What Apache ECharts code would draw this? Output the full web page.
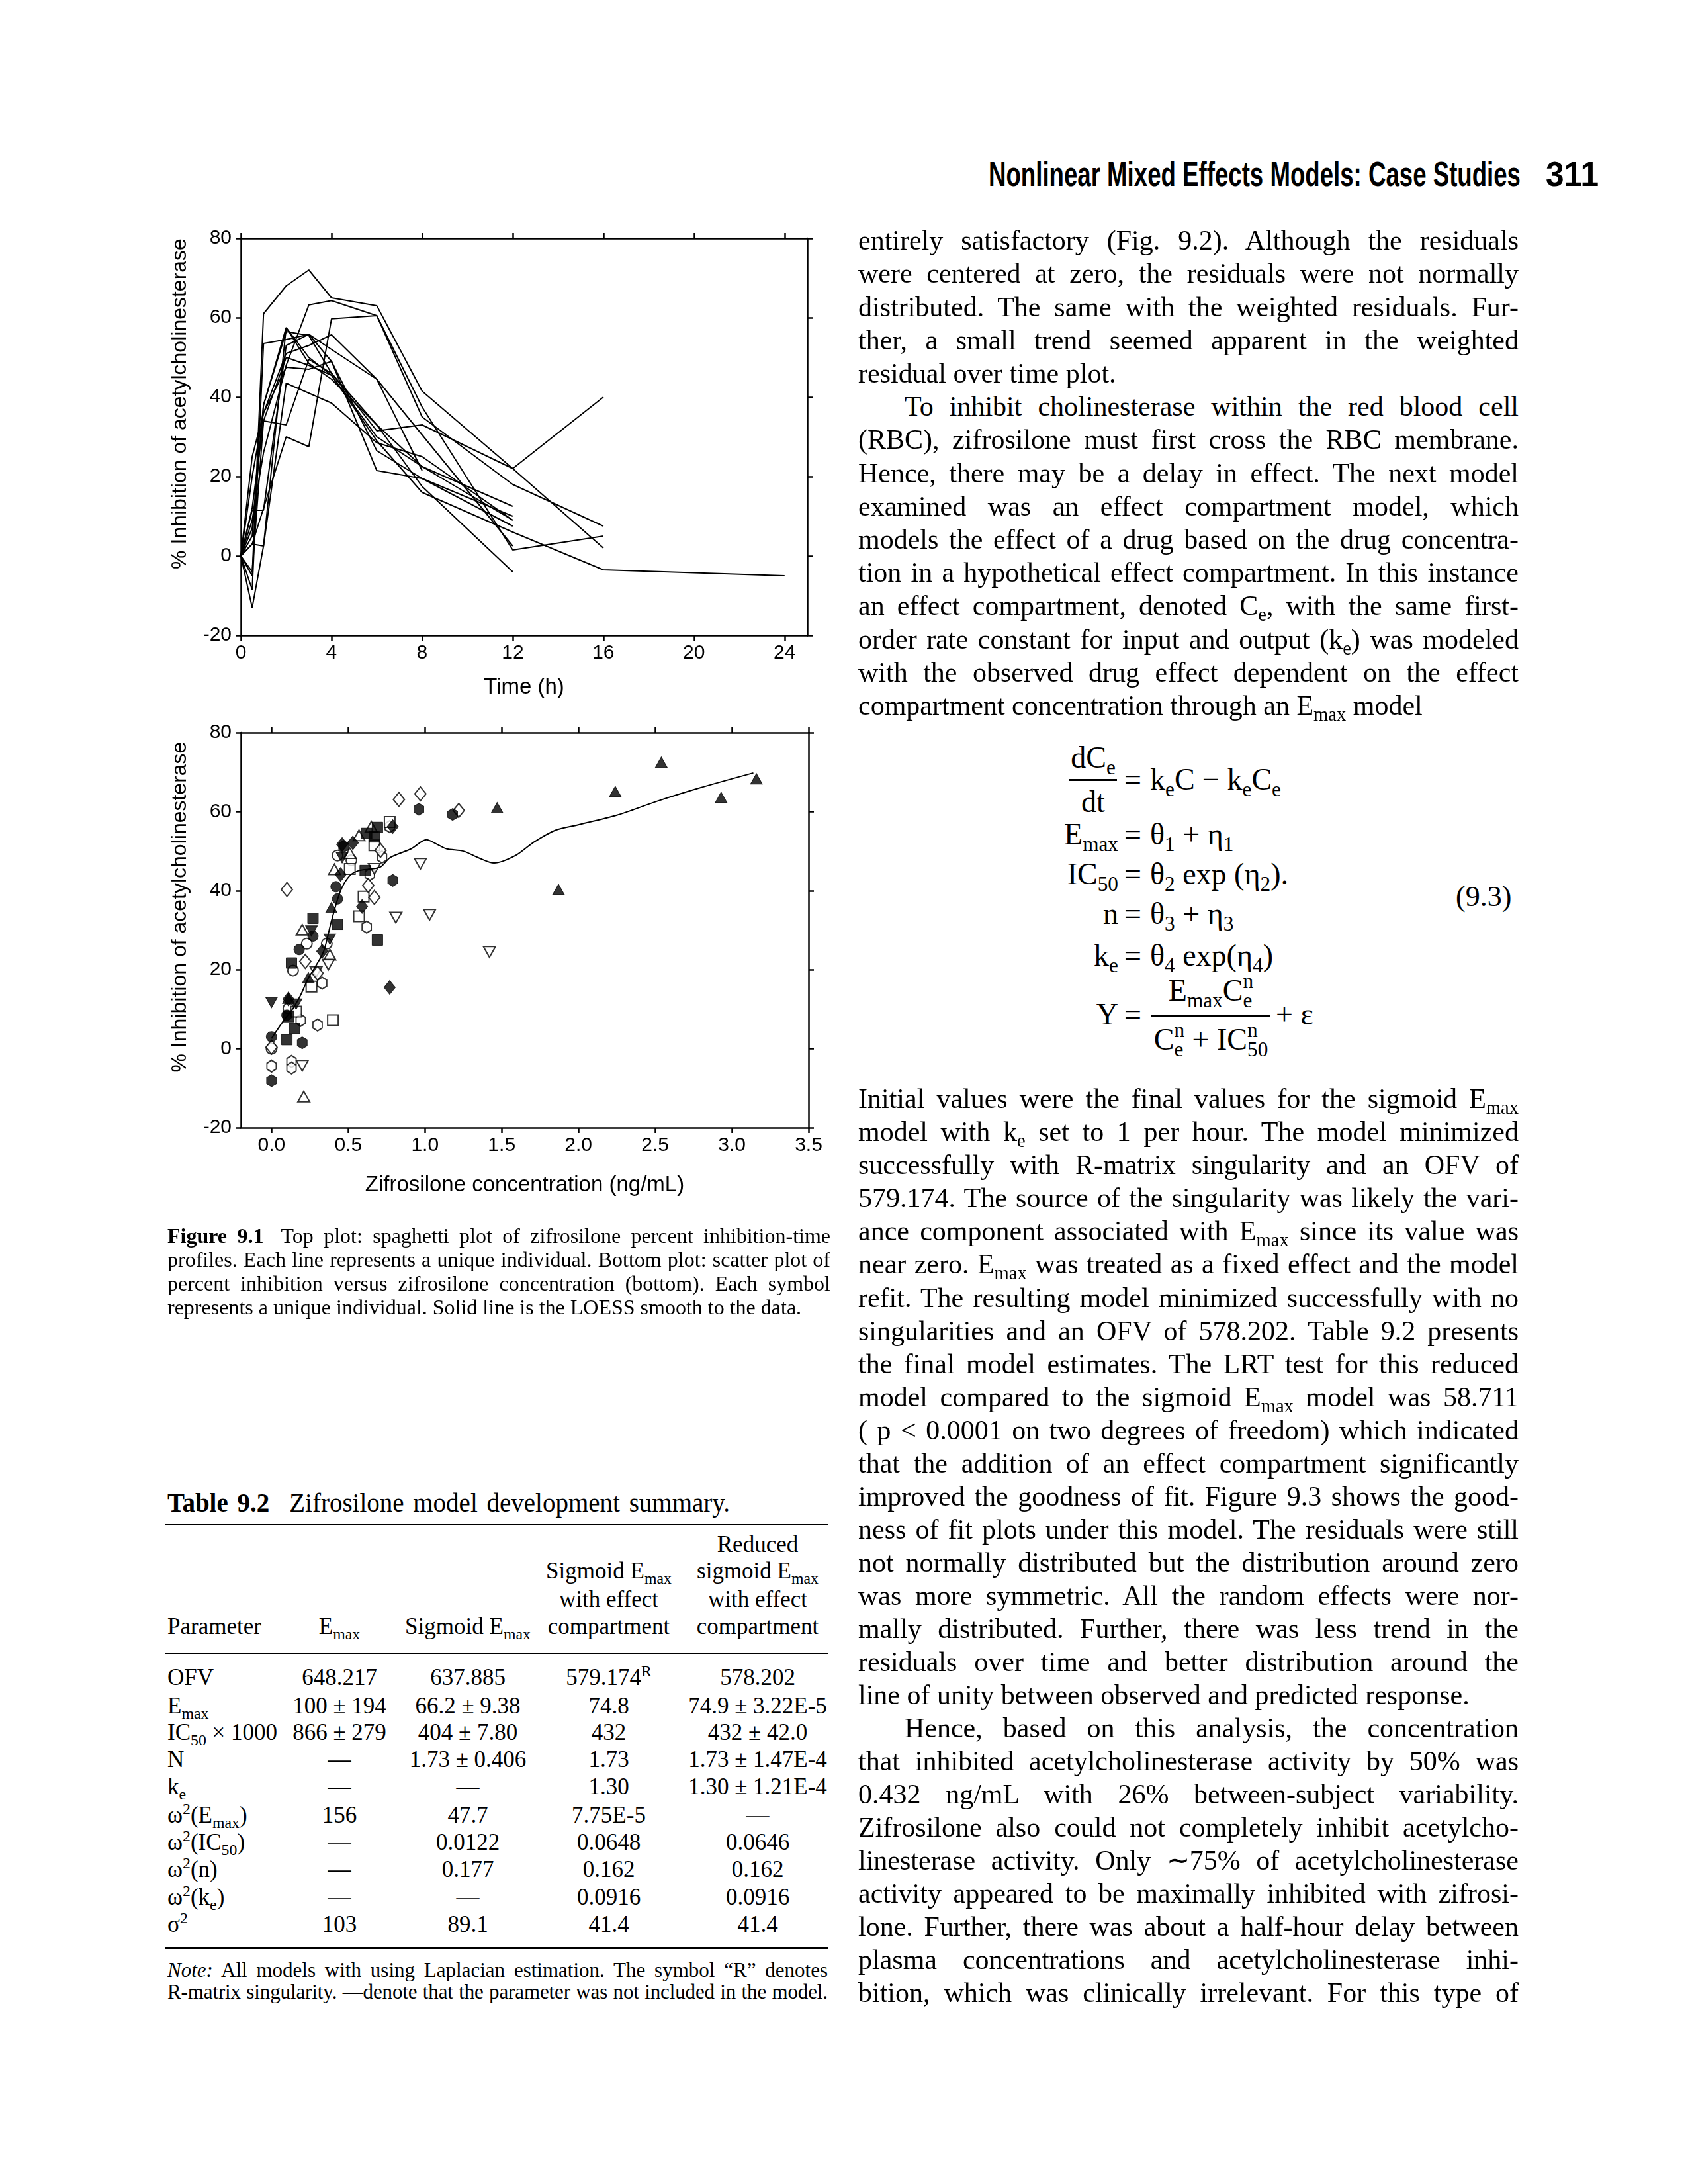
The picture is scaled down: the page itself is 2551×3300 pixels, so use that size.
<!DOCTYPE html>
<html><head><meta charset="utf-8">
<script src="https://cdn.jsdelivr.net/npm/echarts@6/dist/echarts.min.js"></script>
<style>
html,body{margin:0;padding:0;background:#fff;}
body{width:2551px;height:3300px;position:relative;overflow:hidden;font-family:"Liberation Serif","Times New Roman",serif;color:#000;}
#chart{position:absolute;left:0;top:0;width:1300px;height:1850px;}
.t{position:absolute;white-space:nowrap;}
sub,sup{font-size:0.68em;line-height:0;}
.rule{position:absolute;background:#000;}
</style></head>
<body>
<div id="chart"></div>
<script>
// ---------------- DATA ----------------
const timeTicks = [0, 4, 8, 12, 16, 20, 24];
const inhibTicks = [-20, 0, 20, 40, 60, 80];
const concTicks = [0, 0.5, 1.0, 1.5, 2.0, 2.5, 3.0, 3.5];
const sampleTimes = [0, 0.5, 1, 2, 3, 4, 6, 8, 12, 16, 24];
const subj01 = [0, -5, 61, 68, 72, 65, 63, 41.5, 22, 40, null];
const subj02 = [0, 9, 26, 48, 63.2, 64.3, 60.5, 35, 18, 7.5, null];
const subj03 = [0, 3, 12, 30, 27.5, 59.7, 60.5, 37.5, 1.5, 5, null];
const subj04 = [0, -8.5, 53.5, 54.5, 55.8, 52, 44.5, 30.5, 2.5, null, null];
const subj05 = [0, 20, 36, 51, 53, 55.7, 44.5, 21.5, null, null, null];
const subj06 = [0, -13, 2.5, 57.5, 50, 45.5, 29, 16, 6, -3.5, -5];
const subj07 = [0, 7, 38, 56.5, 55.5, 46, 33, 22.5, 12.5, null, null];
const subj08 = [0, 12, 34, 33, 49.5, 46, 31.5, 33, 22, 2, null];
const subj09 = [0, 3, 2.5, 43.5, 41, 38.5, 28.5, 25, 9, null, null];
const subj10 = [0, 11.5, 11.5, 53, 55.8, 49, 21.5, 19.5, 7.5, null, null];
const subj11 = [0, 5, 38, 57.5, 48.5, 44.5, 33, 17.5, -4, null, null];
const subj12 = [0, 25, 36, 47.5, 47, 49, 26.5, 19.5, 10, null, null];
const subj13 = [0, -4, 34, 50, 48, 45.5, 30, 22.5, 9, null, null];

const filledTriUp = [[2.54,72.5],[2.24,65.1],[2.93,63.6],[3.16,68.3],[1.47,61.0],[1.87,40.3],[0.39,35.7],[0.24,18.0],[0.11,12.8]];
const openTriUp = [[0.21,-12.1],[0.20,30.1],[0.41,45.4],[0.57,54.0],[0.51,49.5],[0.65,56.2],[0.38,23.8]];
const filledTriDown = [[0.0,11.7],[0.16,11.3],[0.26,29.8],[0.38,27.7],[0.46,48.3]];
const openTriDown = [[0.97,46.8],[0.81,33.2],[1.03,33.9],[1.42,24.5],[0.37,21.3],[0.29,19.4],[0.20,-4.3],[0.67,45.5]];
const filledSquare = [[0.69,56.0],[0.62,54.5],[0.67,53.6],[0.61,45.1],[0.27,33.0],[0.43,31.5],[0.69,27.5],[0.13,21.7],[0.10,2.3],[0.15,5.1],[0.11,8.1]];
const openSquare = [[0.77,57.4],[0.67,51.5],[0.51,45.5],[0.60,38.5],[0.57,33.5],[0.26,15.7],[0.40,7.2],[0.16,9.4]];
const filledDiamond = [[0.46,51.7],[0.53,52.1],[0.79,56.2],[0.45,44.1],[0.59,36.0],[0.77,15.5],[0.33,24.7],[0.11,12.6]];
const openDiamond = [[0.10,40.3],[0.83,63.1],[0.97,64.5],[1.22,60.3],[0.71,50.2],[0.63,41.3],[0.67,38.3],[0.22,22.1],[0.30,19.1],[0.0,0.4]];
const filledCircle = [[0.42,41.0],[0.43,37.9],[0.18,25.1],[0.27,28.5],[0.0,3.0],[0.10,8.5]];
const filledHex = [[0.96,60.6],[1.18,59.3],[0.79,42.6],[0.0,-8.1],[0.20,1.5],[0.47,51.2]];
const openCircle = [[0.43,48.9],[0.52,47.7],[0.23,26.6],[0.36,26.6],[0.14,19.8],[0.0,0.0],[0.11,10.2]];
const openHex = [[0.77,56.2],[0.72,48.5],[0.64,44.1],[0.62,30.8],[0.33,16.6],[0.30,6.0],[0.19,7.2],[0.0,-4.4],[0.13,-3.2],[0.13,-4.9]];
const loessX = [0,0.08,0.14,0.19,0.24,0.28,0.34,0.39,0.45,0.51,0.57,0.65,0.71,0.77,0.82,0.91,1.01,1.07,1.14,1.25,1.35,1.45,1.59,1.71,1.85,1.99,2.25,2.51,2.79,3.14];
const loessY = [2.6,7.2,10.2,13.6,17.9,20.4,24.7,32.3,40,43.8,45.1,45.5,46,48.3,49.2,50.6,52.9,51.9,50.6,50,48.3,47,48.9,52.3,55.3,56.6,59.1,62.6,66,69.8];

// ---------------- CHART ----------------
const subjects = [subj01,subj02,subj03,subj04,subj05,subj06,subj07,subj08,subj09,subj10,subj11,subj12,subj13];
const SANS = '"Liberation Sans", Arial, Helvetica, sans-serif';
const lineW = 2.5;
function axisBase(extra) {
  return Object.assign({
    axisLine: {show: true, onZero: false, lineStyle: {color: '#000', width: lineW}},
    axisTick: {show: true, inside: false, length: 8, lineStyle: {color: '#000', width: lineW}},
    splitLine: {show: false},
    axisLabel: {color: '#000', fontFamily: SANS, fontSize: 30, margin: 14},
    nameTextStyle: {color: '#000', fontFamily: SANS, fontSize: 33}
  }, extra);
}
const hexPath = 'path://M10,0 L20,6 L20,18 L10,24 L0,18 L0,6 Z';
const triDownPath = 'path://M0,0 L20,0 L10,18 Z';

const series = [];
subjects.forEach(function (s) {
  const d = [];
  s.forEach(function (v, i) { if (v !== null) d.push([sampleTimes[i], v]); });
  series.push({type: 'line', xAxisIndex: 0, yAxisIndex: 0, data: d, symbol: 'none',
    lineStyle: {color: '#000', width: 2}, silent: true});
});
function sc(data, symbol, size, filled) {
  series.push({type: 'scatter', xAxisIndex: 2, yAxisIndex: 2, data: data, symbol: symbol,
    symbolSize: size, symbolKeepAspect: false,
    itemStyle: filled ? {color: '#000', borderColor: '#000', borderWidth: 1}
                      : {color: '#fff', borderColor: '#000', borderWidth: 2}});
}
sc(openCircle, 'circle', 16, false);
sc(openHex, hexPath, [14, 18], false);
sc(openSquare, 'rect', 16, false);
sc(openTriUp, 'triangle', [18, 16], false);
sc(openTriDown, triDownPath, [18, 16], false);
sc(openDiamond, 'diamond', [17, 21], false);
sc(filledCircle, 'circle', 16, true);
sc(filledHex, hexPath, [15, 18], true);
sc(filledSquare, 'rect', 16, true);
sc(filledTriUp, 'triangle', [18, 16], true);
sc(filledTriDown, triDownPath, [18, 16], true);
sc(filledDiamond, 'diamond', [17, 21], true);
series.push({type: 'line', xAxisIndex: 2, yAxisIndex: 2, data: loessX.map(function (x, i) { return [x, loessY[i]]; }),
  symbol: 'none', smooth: 0.3, lineStyle: {color: '#000', width: 2}, z: 5});

const option = {
  animation: false,
  backgroundColor: 'transparent',
  grid: [
    {left: 364, top: 360, width: 856, height: 600},
    {left: 364, top: 1107, width: 858, height: 597}
  ],
  xAxis: [
    axisBase({gridIndex: 0, type: 'value', position: 'bottom', min: 0, max: 25,
      axisTick: {show: true, inside: false, length: 8, customValues: timeTicks, lineStyle: {color: '#000', width: lineW}},
      axisLabel: {color: '#000', fontFamily: SANS, fontSize: 30, margin: 12, customValues: timeTicks},
      name: 'Time (h)', nameLocation: 'middle', nameGap: 62}),
    axisBase({gridIndex: 0, type: 'value', position: 'top', min: 0, max: 25,
      axisTick: {show: true, inside: false, length: 8, customValues: timeTicks, lineStyle: {color: '#000', width: lineW}},
      axisLabel: {show: false}}),
    axisBase({gridIndex: 1, type: 'value', position: 'bottom', min: -0.2, max: 3.5,
      axisTick: {show: true, inside: false, length: 8, customValues: concTicks, lineStyle: {color: '#000', width: lineW}},
      axisLabel: {color: '#000', fontFamily: SANS, fontSize: 30, margin: 12, customValues: concTicks,
        formatter: function (v) { return Number(v).toFixed(1); }},
      name: 'Zifrosilone concentration (ng/mL)', nameLocation: 'middle', nameGap: 70}),
    axisBase({gridIndex: 1, type: 'value', position: 'top', min: -0.2, max: 3.5,
      axisTick: {show: true, inside: false, length: 8, customValues: concTicks, lineStyle: {color: '#000', width: lineW}},
      axisLabel: {show: false}})
  ],
  yAxis: [
    axisBase({gridIndex: 0, type: 'value', position: 'left', min: -20, max: 80, interval: 20,
      name: '% Inhibition of acetylcholinesterase', nameLocation: 'middle', nameGap: 76,
      nameTextStyle: {color: '#000', fontFamily: SANS, fontSize: 32, padding: [0, 0, 0, 100]}}),
    axisBase({gridIndex: 0, type: 'value', position: 'right', min: -20, max: 80, interval: 20,
      axisLabel: {show: false}}),
    axisBase({gridIndex: 1, type: 'value', position: 'left', min: -20, max: 80, interval: 20,
      name: '% Inhibition of acetylcholinesterase', nameLocation: 'middle', nameGap: 76,
      nameTextStyle: {color: '#000', fontFamily: SANS, fontSize: 32, padding: [0, 0, 0, 70]}}),
    axisBase({gridIndex: 1, type: 'value', position: 'right', min: -20, max: 80, interval: 20,
      axisLabel: {show: false}})
  ],
  series: series
};
const chart = echarts.init(document.getElementById('chart'), null, {renderer: 'canvas'});
chart.setOption(option);

// ---------------- PAGE TEXT ----------------
function mk(html, fs, family, weight) {
  const d = document.createElement('div');
  d.className = 't';
  d.style.fontSize = fs + 'px';
  d.style.lineHeight = (fs * 1.2) + 'px';
  if (family) d.style.fontFamily = family;
  if (weight) d.style.fontWeight = weight;
  d.innerHTML = html;
  document.body.appendChild(d);
  return d;
}
function placeL(html, x, yc, fs, opt) {
  opt = opt || {};
  const d = mk(html, fs, opt.family, opt.weight);
  d.style.left = x + 'px';
  d.style.top = (yc - fs * 0.66) + 'px';
  if (opt.width) {
    let nat = d.getBoundingClientRect().width;
    if (opt.fit) {
      d.style.transformOrigin = '0 0';
      d.style.transform = 'scaleX(' + (opt.width / nat) + ')';
    } else {
      const nChars = d.textContent.length;
      if (nat > opt.width - 8 && opt.justify) {
        // too long: tighten letters slightly
        d.style.letterSpacing = ((opt.width - 8 - nat) / nChars) + 'px';
        nat = d.getBoundingClientRect().width;
      }
      const n = (d.textContent.match(/[ \u00a0]/g) || []).length;
      if (opt.justify && n) d.style.wordSpacing = ((opt.width - nat) / n) + 'px';
      else if (!opt.justify && nat > opt.width) d.style.letterSpacing = ((opt.width - nat) / nChars) + 'px';
    }
  }
  return d;
}
function placeC(html, xc, yc, fs, opt) {
  opt = opt || {};
  const d = mk(html, fs, opt.family, opt.weight);
  const w = d.getBoundingClientRect().width;
  d.style.left = (xc - w / 2) + 'px';
  d.style.top = (yc - fs * 0.66) + 'px';
  return d;
}
function placeR(html, xr, yc, fs) {
  const d = mk(html, fs);
  const w = d.getBoundingClientRect().width;
  d.style.left = (xr - w) + 'px';
  d.style.top = (yc - fs * 0.66) + 'px';
  return d;
}
function rule(x, y, w, h) {
  const r = document.createElement('div');
  r.className = 'rule';
  r.style.left = x + 'px'; r.style.top = y + 'px'; r.style.width = w + 'px'; r.style.height = h + 'px';
  document.body.appendChild(r);
}

// Running header
const HDR = '"Liberation Sans Narrow","Liberation Sans",Arial,sans-serif';
placeL('Nonlinear Mixed Effects Models: Case Studies', 1494, 266, 52, {family: HDR, weight: 'bold', width: 804, fit: true});
placeL('311', 2336, 266, 52, {family: HDR, weight: 'bold', width: 80, fit: true});

// Right column body text
const BX = 1297, BW = 998, BF = 42, IND = 70;
const col1 = [
  ['entirely satisfactory (Fig. 9.2). Although the residuals', 0, 1],
  ['were centered at zero, the residuals were not normally', 0, 1],
  ['distributed. The same with the weighted residuals. Fur-', 0, 1],
  ['ther, a small trend seemed apparent in the weighted', 0, 1],
  ['residual over time plot.', 0, 0],
  ['To inhibit cholinesterase within the red blood cell', 1, 1],
  ['(RBC), zifrosilone must first cross the RBC membrane.', 0, 1],
  ['Hence, there may be a delay in effect. The next model', 0, 1],
  ['examined was an effect compartment model, which', 0, 1],
  ['models the effect of a drug based on the drug concentra-', 0, 1],
  ['tion in a hypothetical effect compartment. In this instance', 0, 1],
  ['an effect compartment, denoted C<sub>e</sub>, with the same first-', 0, 1],
  ['order rate constant for input and output (k<sub>e</sub>) was modeled', 0, 1],
  ['with the observed drug effect dependent on the effect', 0, 1],
  ['compartment concentration through an E<sub>max</sub> model', 0, 0]
];
col1.forEach(function (l, i) {
  const x = BX + (l[1] ? IND : 0);
  placeL(l[0], x, 366 + i * 50.2, BF, {width: BW - (l[1] ? IND : 0), justify: !!l[2]});
});
const col2 = [
  ['Initial values were the final values for the sigmoid E<sub>max</sub>', 0, 1],
  ['model with k<sub>e</sub> set to 1 per hour. The model minimized', 0, 1],
  ['successfully with R-matrix singularity and an OFV of', 0, 1],
  ['579.174. The source of the singularity was likely the vari-', 0, 1],
  ['ance component associated with E<sub>max</sub> since its value was', 0, 1],
  ['near zero. E<sub>max</sub> was treated as a fixed effect and the model', 0, 1],
  ['refit. The resulting model minimized successfully with no', 0, 1],
  ['singularities and an OFV of 578.202. Table 9.2 presents', 0, 1],
  ['the final model estimates. The LRT test for this reduced', 0, 1],
  ['model compared to the sigmoid E<sub>max</sub> model was 58.711', 0, 1],
  ['( p &lt; 0.0001 on two degrees of freedom) which indicated', 0, 1],
  ['that the addition of an effect compartment significantly', 0, 1],
  ['improved the goodness of fit. Figure 9.3 shows the good-', 0, 1],
  ['ness of fit plots under this model. The residuals were still', 0, 1],
  ['not normally distributed but the distribution around zero', 0, 1],
  ['was more symmetric. All the random effects were nor-', 0, 1],
  ['mally distributed. Further, there was less trend in the', 0, 1],
  ['residuals over time and better distribution around the', 0, 1],
  ['line of unity between observed and predicted response.', 0, 0],
  ['Hence, based on this analysis, the concentration', 1, 1],
  ['that inhibited acetylcholinesterase activity by 50% was', 0, 1],
  ['0.432 ng/mL with 26% between-subject variability.', 0, 1],
  ['Zifrosilone also could not completely inhibit acetylcho-', 0, 1],
  ['linesterase activity. Only ∼75% of acetylcholinesterase', 0, 1],
  ['activity appeared to be maximally inhibited with zifrosi-', 0, 1],
  ['lone. Further, there was about a half-hour delay between', 0, 1],
  ['plasma concentrations and acetylcholinesterase inhi-', 0, 1],
  ['bition, which was clinically irrelevant. For this type of', 0, 1]
];
col2.forEach(function (l, i) {
  const x = BX + (l[1] ? IND : 0);
  placeL(l[0], x, 1663 + i * 50.04, BF, {width: BW - (l[1] ? IND : 0), justify: !!l[2]});
});

// Equation block (9.3)
const EF = 46, EQX = 1712, LHR = 1690, RHL = 1738;
placeC('dC<sub>e</sub>', 1652, 1147, EF);
rule(1616, 1177, 72, 3);
placeC('dt', 1652, 1214, EF);
const eqRows = [
  [null, 'k<sub>e</sub>C − k<sub>e</sub>C<sub>e</sub>', 1180],
  ['E<sub>max</sub>', 'θ<sub>1</sub> + η<sub>1</sub>', 1263],
  ['IC<sub>50</sub>', 'θ<sub>2</sub> exp (η<sub>2</sub>).', 1323],
  ['n', 'θ<sub>3</sub> + η<sub>3</sub>', 1383],
  ['k<sub>e</sub>', 'θ<sub>4</sub> exp(η<sub>4</sub>)', 1446],
  ['Y', null, 1535]
];
eqRows.forEach(function (r) {
  if (r[0]) placeR(r[0], LHR, r[2], EF);
  placeC('=', EQX, r[2], EF);
  if (r[1]) placeL(r[1], RHL, r[2], EF);
});
function ss(sup, sub) {
  return '<span style="display:inline-block;vertical-align:-0.35em;font-size:0.68em;line-height:0.95;text-align:left">' + sup + '<br>' + sub + '</span>';
}
placeC('E<sub>max</sub>C' + ss('n', 'e'), 1830, 1498, EF);
rule(1740, 1533, 180, 3);
placeC('C' + ss('n', 'e') + ' + IC' + ss('n', '50'), 1830, 1572, EF);
placeL('+ ε', 1928, 1535, EF);
placeL('(9.3)', 2200, 1358, 44);

// Figure caption (left column)
const CX = 253, CW = 1002, CF = 32;
const capLines = [
  ['<b>Figure 9.1</b><span style="display:inline-block;width:26px"></span>Top plot: spaghetti plot of zifrosilone percent inhibition-time', 1],
  ['profiles. Each line represents a unique individual. Bottom plot: scatter plot of', 1],
  ['percent inhibition versus zifrosilone concentration (bottom). Each symbol', 1],
  ['represents a unique individual. Solid line is the LOESS smooth to the data.', 0]
];
capLines.forEach(function (l, i) {
  placeL(l[0], CX, 1869 + i * 36, CF, {width: CW, justify: !!l[1]});
});

// Table 9.2
placeL('<b>Table 9.2</b><span style="display:inline-block;width:30px"></span>Zifrosilone model development summary.', 253, 2274, 39, {width: 850, justify: true});
rule(250, 2302, 1001, 3);
const TF = 35;
const colX = [513, 707, 920, 1145];
placeC('Reduced', colX[3], 2336, TF);
placeC('Sigmoid E<sub>max</sub>', colX[2], 2376, TF);
placeC('sigmoid E<sub>max</sub>', colX[3], 2376, TF);
placeC('with effect', colX[2], 2419, TF);
placeC('with effect', colX[3], 2419, TF);
placeL('Parameter', 253, 2460, TF);
placeC('E<sub>max</sub>', colX[0], 2460, TF);
placeC('Sigmoid E<sub>max</sub>', colX[1], 2460, TF);
placeC('compartment', colX[2], 2460, TF);
placeC('compartment', colX[3], 2460, TF);
rule(250, 2497, 1001, 2);
const tableRows = [
  ['OFV', '648.217', '637.885', '579.174<sup>R</sup>', '578.202'],
  ['E<sub>max</sub>', '100 ± 194', '66.2 ± 9.38', '74.8', '74.9 ± 3.22E-5'],
  ['IC<sub>50</sub> × 1000', '866 ± 279', '404 ± 7.80', '432', '432 ± 42.0'],
  ['N', '—', '1.73 ± 0.406', '1.73', '1.73 ± 1.47E-4'],
  ['k<sub>e</sub>', '—', '—', '1.30', '1.30 ± 1.21E-4'],
  ['ω<sup>2</sup>(E<sub>max</sub>)', '156', '47.7', '7.75E-5', '—'],
  ['ω<sup>2</sup>(IC<sub>50</sub>)', '—', '0.0122', '0.0648', '0.0646'],
  ['ω<sup>2</sup>(n)', '—', '0.177', '0.162', '0.162'],
  ['ω<sup>2</sup>(k<sub>e</sub>)', '—', '—', '0.0916', '0.0916'],
  ['σ<sup>2</sup>', '103', '89.1', '41.4', '41.4']
];
const rowY = [2537, 2580, 2620, 2661, 2702, 2745, 2786, 2827, 2869, 2910];
tableRows.forEach(function (r, i) {
  placeL(r[0], 253, rowY[i], TF);
  for (let c = 1; c < 5; c++) placeC(r[c], colX[c - 1], rowY[i], TF);
});
rule(250, 2942, 1001, 3);
placeL('<i>Note:</i> All models with using Laplacian estimation. The symbol “R” denotes', 253, 2978, 31, {width: 998, justify: true});
placeL('R-matrix singularity. —denote that the parameter was not included in the model.', 253, 3011, 31, {width: 998, justify: true});
</script>
</body></html>
